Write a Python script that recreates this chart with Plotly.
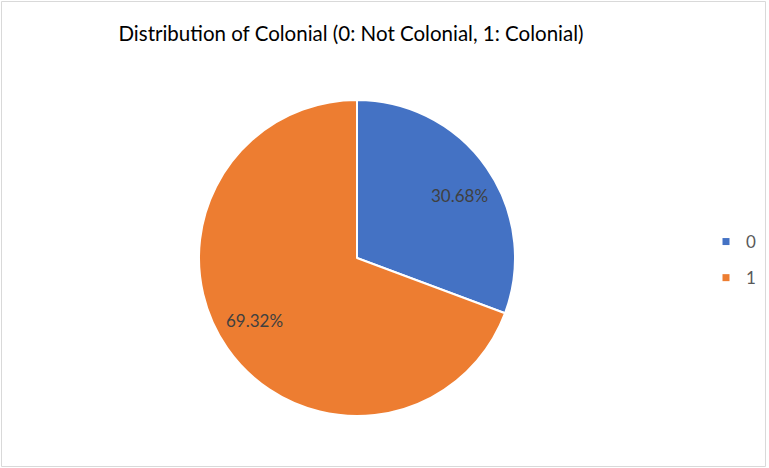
import numpy as np
import plotly.graph_objects as go

# data
categories = ["0", "1"]
shares = [30.68, 69.32]
slice_colors = ["#4472C4", "#ED7D31"]

TITLE = "Distribution of Colonial (0: Not Colonial, 1: Colonial)"
FONT = "Lato, Open Sans, sans-serif"

W, H = 769, 468
# pie placement (px)
CX, CY, R = 357, 258, 158
LABEL_R = 0.76  # excel puts data labels fairly far out
LABEL_NUDGE = np.deg2rad(3.5)  # and slightly past the mid angle

fig = go.Figure()

fig.add_trace(
    go.Pie(
        labels=categories,
        values=shares,
        sort=False,
        direction="clockwise",
        rotation=0,
        marker=dict(colors=slice_colors, line=dict(color="white", width=2)),
        textinfo="none",
        domain=dict(x=[(CX - R) / W, (CX + R) / W], y=[1 - (CY + R) / H, 1 - (CY - R) / H]),
        showlegend=False,
        hoverinfo="label+percent",
    )
)

# data labels near the middle angle of each slice
fr = np.array(shares) / sum(shares)
mid = (np.cumsum(fr) - fr / 2) * 2 * np.pi + LABEL_NUDGE
for f, a in zip(fr, mid):
    fig.add_annotation(
        x=(CX + LABEL_R * R * np.sin(a)) / W,
        y=1 - (CY - LABEL_R * R * np.cos(a)) / H,
        xref="paper",
        yref="paper",
        xanchor="center",
        yanchor="middle",
        text=f"{f:.2%}",
        showarrow=False,
        font=dict(family=FONT, size=17, color="#404040"),
    )

# legend entries (one group per category, so the gap between them can be set)
for cat, col in zip(categories, slice_colors):
    fig.add_trace(
        go.Scatter(
            x=[None],
            y=[None],
            mode="markers",
            name=cat,
            legendgroup=cat,
            marker=dict(symbol="square", size=7, color=col),
        )
    )

fig.update_layout(
    width=W,
    height=H,
    margin=dict(l=0, r=0, t=0, b=0),
    paper_bgcolor="white",
    plot_bgcolor="white",
    title=dict(
        text=TITLE,
        x=351 / W,
        xanchor="center",
        y=1 - 34 / H,
        yanchor="middle",
        font=dict(family=FONT, size=20.5, color="#000000"),
    ),
    xaxis=dict(visible=False),
    yaxis=dict(visible=False),
    legend=dict(
        x=706 / W,
        xanchor="left",
        y=1 - 260 / H,
        yanchor="middle",
        tracegroupgap=11,
        font=dict(family=FONT, size=17, color="#595959"),
        bgcolor="rgba(0,0,0,0)",
    ),
    showlegend=True,
    shapes=[
        dict(
            type="rect",
            xref="paper",
            yref="paper",
            x0=1.5 / W,
            x1=765.5 / W,
            y0=1 - 466.5 / H,
            y1=1 - 1.5 / H,
            line=dict(color="#D9D9D9", width=1),
        )
    ],
)

# page has a default body margin; drop it so the chart fills the window
fig.write_html(
    "out.html",
    config={"displayModeBar": False},
    post_script="document.body.style.margin='0';",
)
